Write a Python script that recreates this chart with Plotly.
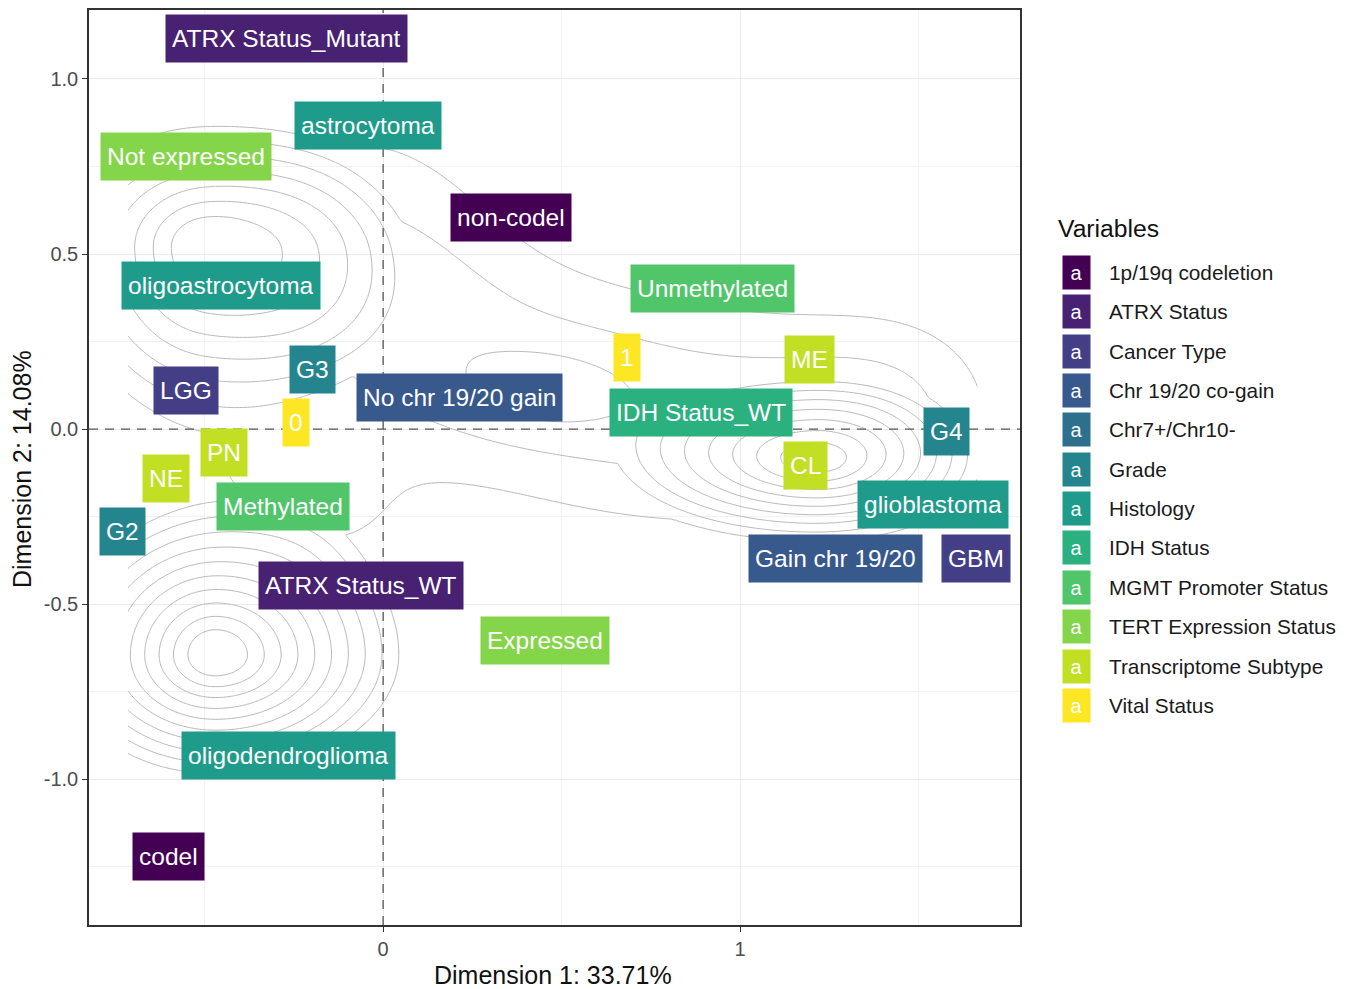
import numpy as np
import plotly.graph_objects as go

# ---------------- data ----------------
variables = ["1p/19q codeletion", "ATRX Status", "Cancer Type", "Chr 19/20 co-gain",
             "Chr7+/Chr10-", "Grade", "Histology", "IDH Status", "MGMT Promoter Status",
             "TERT Expression Status", "Transcriptome Subtype", "Vital Status"]
var_colors = ["#440154", "#482173", "#433E85", "#38598C", "#2D708E", "#25858E",
              "#1E9B8A", "#2BB07F", "#51C56A", "#85D54A", "#C2DF23", "#FDE725"]

cat_labels = ["ATRX Status_Mutant", "astrocytoma", "Not expressed", "non-codel",
              "oligoastrocytoma", "Unmethylated", "1", "ME", "G3", "LGG",
              "No chr 19/20 gain", "IDH Status_WT", "0", "G4", "PN", "CL", "NE",
              "Methylated", "glioblastoma", "G2", "Gain chr 19/20", "GBM",
              "ATRX Status_WT", "Expressed", "oligodendroglioma", "codel"]
cat_x = [-0.272, -0.042, -0.552, 0.359, -0.454, 0.922, 0.683, 1.193, -0.199, -0.552,
         0.213, 0.891, -0.244, 1.577, -0.445, 1.182, -0.608, -0.280, 1.541, -0.731,
         1.266, 1.661, -0.062, 0.454, -0.266, -0.602]
cat_y = [1.117, 0.866, 0.778, 0.604, 0.410, 0.402, 0.205, 0.199, 0.171, 0.111,
         0.091, 0.048, 0.020, -0.006, -0.068, -0.103, -0.142, -0.222, -0.214, -0.293,
         -0.368, -0.368, -0.447, -0.604, -0.932, -1.219]
cat_var = ["ATRX Status", "Histology", "TERT Expression Status", "1p/19q codeletion",
           "Histology", "MGMT Promoter Status", "Vital Status", "Transcriptome Subtype",
           "Grade", "Cancer Type", "Chr 19/20 co-gain", "IDH Status", "Vital Status",
           "Grade", "Transcriptome Subtype", "Transcriptome Subtype",
           "Transcriptome Subtype", "MGMT Promoter Status", "Histology", "Grade",
           "Chr 19/20 co-gain", "Cancer Type", "ATRX Status", "TERT Expression Status",
           "Histology", "1p/19q codeletion"]

# sample-density clusters
# peaked clusters: centre, radii (left, right, down, up), height, plateau fraction
peak_cx = [-0.47, -0.50, 1.21]
peak_cy = [-0.645, 0.52, -0.09]
peak_rxl = [0.48, 0.46, 0.553]
peak_rxr = [0.56, 0.56, 0.48]
peak_ryd = [0.37, 0.55, 0.24]
peak_ryu = [0.45, 0.385, 0.24]
peak_h = [10.6, 7.2, 6.8]
peak_r0 = [0.11, 0.172, 0.15]
# diffuse band and bridges
band_cx = [-0.25, -0.10, 0.10, 0.30, 0.50, 0.70, 0.90, 1.10, 1.30, 1.50, 0.45, -0.15, -0.38]
band_cy = [0.45, 0.42, 0.33, 0.21, 0.11, 0.07, 0.04, 0.03, 0.03, 0.03, 0.11, -0.25, -0.10]
band_sx = [0.14, 0.18, 0.18, 0.18, 0.18, 0.18, 0.18, 0.18, 0.18, 0.18, 0.17, 0.15, 0.20]
band_sy = [0.22, 0.31, 0.31, 0.25, 0.23, 0.23, 0.22, 0.20, 0.20, 0.20, 0.09, 0.12, 0.13]
band_h = [0.8, 1.4, 1.4, 1.2, 1.2, 1.2, 1.2, 1.2, 1.4, 1.4, 1.0, 0.8, 0.9]
dens_xrange = [-0.715, 1.665]
dens_yrange = [-1.0, 0.95]

x_ticks = [0, 1]
x_ticktext = ["0", "1"]
x_minor = [-0.5, 0.5, 1.5]
y_ticks = [-1.0, -0.5, 0.0, 0.5, 1.0]
y_ticktext = ["-1.0", "-0.5", "0.0", "0.5", "1.0"]
y_minor = [-1.25, -0.75, -0.25, 0.25, 0.75]
ref_x = [0]
ref_y = [0]

# ---------------- figure ----------------
FONT = "Liberation Sans, Arial, sans-serif"
gx = np.linspace(dens_xrange[0], dens_xrange[1], 320)
gy = np.linspace(dens_yrange[0], dens_yrange[1], 320)
GX, GY = np.meshgrid(gx, gy)
Z = np.zeros_like(GX)
for cx, cy, rxl, rxr, ryd, ryu, h, r0 in zip(peak_cx, peak_cy, peak_rxl, peak_rxr,
                                             peak_ryd, peak_ryu, peak_h, peak_r0):
    dx = np.where(GX < cx, (GX - cx) / rxl, (GX - cx) / rxr)
    dy = np.where(GY < cy, (GY - cy) / ryd, (GY - cy) / ryu)
    r = np.sqrt(dx ** 2 + dy ** 2)
    Z += h * np.clip((1 - r) / (1 - r0), 0, 1)
for cx, cy, sx, sy, h in zip(band_cx, band_cy, band_sx, band_sy, band_h):
    Z += h * np.exp(-0.5 * ((GX - cx) / sx) ** 2 - 0.5 * ((GY - cy) / sy) ** 2)

fig = go.Figure()
fig.add_trace(go.Contour(
    x=gx, y=gy, z=Z,
    contours=dict(coloring="lines", start=1, end=12, size=1, showlabels=False),
    colorscale=[[0, "#B8B8B8"], [1, "#B8B8B8"]],
    line=dict(width=1, smoothing=1.0),
    showscale=False, hoverinfo="skip",
))

shapes = []
for v in ref_x:
    shapes.append(dict(type="line", xref="x", yref="paper", x0=v, x1=v, y0=0, y1=1,
                       line=dict(color="#555555", width=1.3, dash="9px,7px"), layer="above"))
for v in ref_y:
    shapes.append(dict(type="line", xref="paper", yref="y", x0=0, x1=1, y0=v, y1=v,
                       line=dict(color="#555555", width=1.3, dash="9px,7px"), layer="above"))

annotations = []
cmap = dict(zip(variables, var_colors))
for t, x, y, v in zip(cat_labels, cat_x, cat_y, cat_var):
    annotations.append(dict(x=x, y=y, xref="x", yref="y", text=t, showarrow=False,
                            font=dict(family=FONT, size=24.5, color="white"),
                            bgcolor=cmap[v], borderpad=6, height=35,
                            xanchor="center", yanchor="middle"))

# plot-area pixel geometry
L, R, T, B = 89, 1020, 8, 925
W, H = R - L, B - T
def px(x):
    return (x - L) / W
def py(y):
    return (B - y) / H

# axis titles
annotations.append(dict(x=px(553), y=py(975), xref="paper", yref="paper",
                        text="Dimension 1: 33.71%", showarrow=False,
                        font=dict(family=FONT, size=25, color="#111111"),
                        xanchor="center", yanchor="middle"))
annotations.append(dict(x=px(22), y=py(468), xref="paper", yref="paper",
                        text="Dimension 2: 14.08%", showarrow=False, textangle=-90,
                        font=dict(family=FONT, size=25, color="#111111"),
                        xanchor="center", yanchor="middle"))

# legend
annotations.append(dict(x=px(1056), y=py(227), xref="paper", yref="paper",
                        text="Variables", showarrow=False,
                        font=dict(family=FONT, size=24.7, color="#111111"),
                        xanchor="left", yanchor="middle"))
for i, (v, c) in enumerate(zip(variables, var_colors)):
    yc = 271 + i * 39.45
    annotations.append(dict(x=px(1076), y=py(yc), xref="paper", yref="paper",
                            text="a", showarrow=False, width=25, height=31,
                            bgcolor=c, font=dict(family=FONT, size=20, color="white"),
                            xanchor="center", yanchor="middle"))
    annotations.append(dict(x=px(1107), y=py(yc), xref="paper", yref="paper",
                            text=v, showarrow=False,
                            font=dict(family=FONT, size=20.8, color="#1A1A1A"),
                            xanchor="left", yanchor="middle"))

axis_common = dict(showline=True, mirror=True, linecolor="#333333", linewidth=1.5,
                   ticks="outside", ticklen=5, tickwidth=1.2, tickcolor="#333333",
                   zeroline=False, showgrid=True, gridcolor="#EBEBEB", gridwidth=1.3,
                   tickfont=dict(family=FONT, size=20, color="#4D4D4D"))

fig.update_layout(
    width=1351, height=989,
    margin=dict(l=L, r=1351 - R, t=T, b=989 - B),
    plot_bgcolor="white", paper_bgcolor="white",
    showlegend=False,
    xaxis=dict(range=[-0.824, 1.784], tickmode="array", tickvals=x_ticks,
               ticktext=x_ticktext,
               minor=dict(tickmode="array", tickvals=x_minor, showgrid=True,
                          gridcolor="#F2F2F2", gridwidth=0.8, ticks=""),
               **axis_common),
    yaxis=dict(range=[-1.416, 1.197], tickmode="array", tickvals=y_ticks,
               ticktext=y_ticktext,
               minor=dict(tickmode="array", tickvals=y_minor, showgrid=True,
                          gridcolor="#F2F2F2", gridwidth=0.8, ticks=""),
               **axis_common),
    shapes=shapes,
    annotations=annotations,
)

fig.write_html("out.html")
